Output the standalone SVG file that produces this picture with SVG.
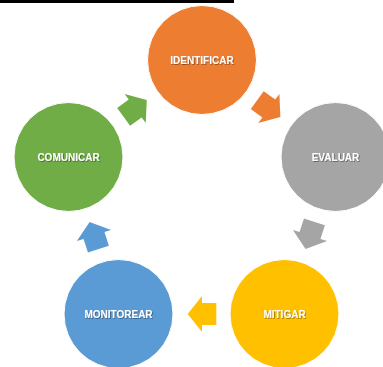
<svg xmlns="http://www.w3.org/2000/svg" xmlns:xlink="http://www.w3.org/1999/xlink" width="383" height="367" viewBox="0 0 383 367">
  <defs>
    <filter id="ts" x="-20%" y="-50%" width="140%" height="200%">
      <feDropShadow dx="0.8" dy="0.8" stdDeviation="0.5" flood-color="#000" flood-opacity="0.45"/>
    </filter>
    <polygon id="arr" points="-14.3,-11 0,-11 0,-18 14.3,0 0,18 0,11 -14.3,11"/>
  </defs>
  <style>
    .node { stroke: #ffffff; stroke-width: 1; }
    .lbl { font-family: "Liberation Sans", Arial, sans-serif; font-weight: bold; font-size: 10px; fill: #ffffff; text-anchor: middle; filter: url(#ts); }
  </style>
  <rect x="0" y="0" width="234" height="3" fill="#000000"/>
  <g id="connectors">
    <use xlink:href="#arr" href="#arr" transform="translate(268.8,108.5) rotate(36)" fill="#ED7D31"/>
    <use xlink:href="#arr" href="#arr" transform="translate(310,235.5) rotate(108)" fill="#A5A5A5"/>
    <use xlink:href="#arr" href="#arr" transform="translate(202,314) rotate(180)" fill="#FFC000"/>
    <use xlink:href="#arr" href="#arr" transform="translate(94,235.5) rotate(252)" fill="#5B9BD5"/>
    <use xlink:href="#arr" href="#arr" transform="translate(135.2,108.5) rotate(-36)" fill="#70AD47"/>
  </g>
  <g id="identificar">
    <circle class="node" cx="202" cy="60" r="54.5" fill="#ED7D31"/>
    <text class="lbl" x="202" y="64">IDENTIFICAR</text>
  </g>
  <g id="evaluar">
    <circle class="node" cx="335.5" cy="157" r="54.5" fill="#A5A5A5"/>
    <text class="lbl" x="335.5" y="160.5">EVALUAR</text>
  </g>
  <g id="mitigar">
    <circle class="node" cx="284.5" cy="314" r="54.5" fill="#FFC000"/>
    <text class="lbl" x="284.5" y="317.5">MITIGAR</text>
  </g>
  <g id="monitorear">
    <circle class="node" cx="118.5" cy="314" r="54.5" fill="#5B9BD5"/>
    <text class="lbl" x="118.5" y="317.5">MONITOREAR</text>
  </g>
  <g id="comunicar">
    <circle class="node" cx="68.5" cy="157" r="54.5" fill="#70AD47"/>
    <text class="lbl" x="68.5" y="160.5">COMUNICAR</text>
  </g>
</svg>
